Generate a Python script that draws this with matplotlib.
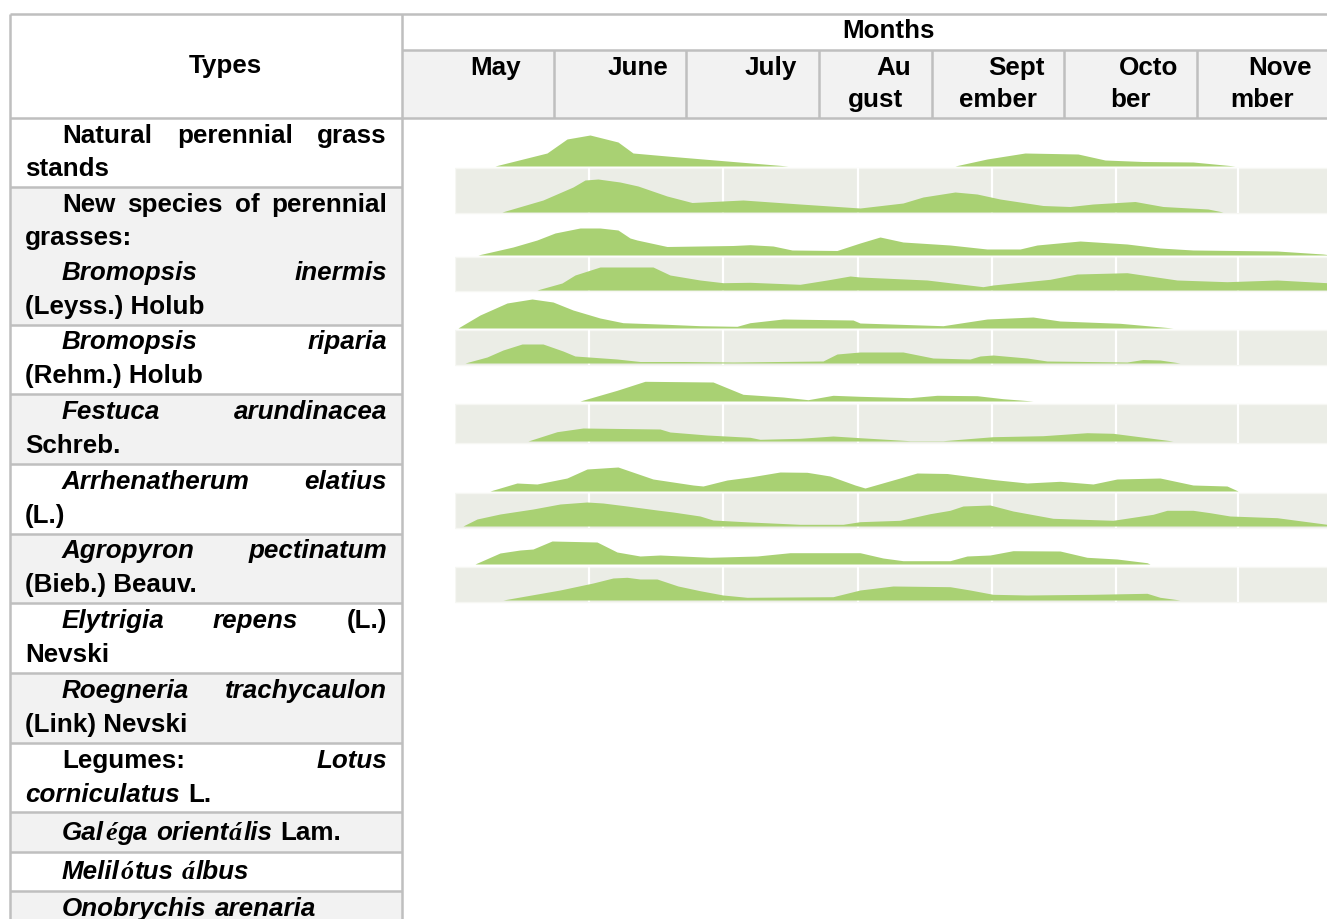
import matplotlib
matplotlib.use("Agg")
import numpy as np
import matplotlib.pyplot as plt
from matplotlib.patches import Rectangle

# ---------------- data ----------------
months_line1 = ["May", "June", "July", "Au", "Sept", "Octo", "Nove"]
months_line2 = ["", "", "", "gust", "ember", "ber", "mber"]

# ridge profiles: position along the season scale / relative intensity
r01_x = [0, 40, 92, 112, 135, 163, 178, 212, 278, 333, 500, 532, 570, 623, 650, 688, 738, 780, 872]
r01_h = [0, 0, 13, 27, 31, 24, 13, 10, 4.5, 0, 0, 7, 13, 12, 6, 4.5, 4, 0, 0]
r02_x = [0, 47, 88, 118, 130, 143, 165, 183, 212, 237, 288, 345, 405, 448, 468, 500, 522, 545,
         588, 615, 638, 680, 708, 753, 768, 872]
r02_h = [0, 0, 12, 25, 32, 33, 30, 26, 16, 9.5, 12, 8, 4, 9, 15, 20, 18, 13,
         6.5, 5.5, 8, 10.5, 5.5, 3, 0, 0]
r03_x = [0, 23, 58, 82, 100, 125, 145, 163, 175, 182, 212, 278, 295, 318, 337, 382, 405, 425,
         448, 495, 532, 565, 582, 625, 672, 705, 738, 822, 868, 872]
r03_h = [0, 0, 8, 15, 22, 27, 27, 25, 17, 15, 8.5, 9.5, 10.3, 9, 5, 4.5, 12, 18,
         13, 10, 6, 6, 10, 14, 11, 7, 5, 4, 1, 0.5]
r04_x = [0, 82, 107, 120, 145, 198, 215, 245, 268, 295, 345, 372, 395, 405, 472, 528, 538,
         595, 622, 672, 722, 772, 822, 872]
r04_h = [0, 0, 7, 15, 23, 23, 15, 10, 7.3, 7.7, 5.7, 10, 14, 13, 10, 3.3, 5,
         10.7, 16, 17.3, 10, 8.3, 10, 7.3]
r05_x = [0, 3, 25, 52, 77, 98, 118, 145, 168, 212, 245, 282, 295, 328, 398, 405, 488, 532,
         578, 605, 665, 718, 872]
r05_h = [0, 0, 13, 25, 29, 26, 18, 10, 5.3, 3.7, 2.3, 1.7, 5.3, 9, 8, 5, 2.3, 9,
         11, 7, 4.7, 0, 0]
r06_x = [0, 10, 32, 48, 67, 88, 108, 120, 162, 185, 228, 278, 368, 382, 405, 448, 478, 515,
         525, 538, 572, 592, 672, 688, 705, 725, 872]
r06_h = [0, 0, 6, 13, 19, 19, 12, 7, 4, 1.5, 1.5, 1, 2, 9, 11, 11, 5, 4,
         7, 8, 5, 2, 1, 3.5, 3, 0, 0]
r07_x = [0, 125, 162, 190, 258, 288, 328, 353, 378, 405, 455, 482, 522, 548, 578, 872]
r07_h = [0, 0, 10.7, 19.7, 19, 6.7, 4, 1.3, 5.7, 4.7, 3.3, 5.7, 5.3, 2.3, 0, 0]
r08_x = [0, 73, 102, 128, 205, 215, 252, 295, 305, 345, 378, 405, 455, 488, 538, 588, 632,
         658, 718, 872]
r08_h = [0, 0, 9.3, 13, 12, 9, 6, 3.7, 1.7, 2.7, 5, 3.3, 0.3, 0.3, 4.3, 5.3, 8.3,
         7.7, 0, 0]
r09_x = [0, 35, 62, 82, 112, 132, 163, 198, 238, 248, 272, 295, 325, 352, 375, 400, 410, 445,
         462, 492, 538, 572, 605, 638, 662, 705, 738, 772, 783, 872]
r09_h = [0, 0, 8, 7, 13, 22, 24, 12, 6, 5, 11, 14, 19, 18.7, 15, 6, 3, 13,
         18, 17.5, 11.5, 8, 9.7, 7, 12, 13, 6, 5, 0, 0]
r10_x = [0, 8, 22, 45, 78, 105, 132, 148, 172, 202, 218, 245, 258, 295, 345, 388, 405, 445,
         475, 495, 508, 535, 558, 598, 658, 698, 712, 738, 755, 775, 822, 872]
r10_h = [0, 0, 7, 12, 17, 22, 24, 23, 20, 16, 14, 10, 6, 4, 1.7, 1.7, 4.3, 5.7,
         12.3, 15.7, 20, 21, 15, 7.7, 5.7, 11.7, 15.7, 15.7, 13.3, 10, 8.3, 1.7]
r11_x = [0, 20, 45, 65, 78, 97, 142, 162, 185, 205, 255, 302, 335, 405, 428, 448, 495, 512,
         535, 558, 605, 632, 662, 692, 695, 872]
r11_h = [0, 0, 11, 14, 15, 23, 22, 12, 8, 9, 6.7, 8, 11.3, 11.3, 6, 3.3, 3.3, 8,
         9, 13.3, 13, 6.7, 5, 1.3, 0, 0]
r12_x = [0, 48, 105, 138, 158, 172, 185, 202, 223, 245, 268, 292, 378, 405, 438, 495, 515,
         538, 572, 638, 692, 705, 725, 872]
r12_h = [0, 0, 10, 17, 22, 22.7, 21, 21, 14, 9.3, 5, 2.7, 3.3, 10, 14, 13.3, 10,
         5.7, 5, 5.7, 6.7, 2.7, 0, 0]
season_grid = [134, 268, 403, 537, 661, 783]

# text of the "Types" column: (mode, words); word = list of (text, style) runs
B, BI, SI = "b", "bi", "si"
type_rows = [
    [("J", [[("Natural", B)], [("perennial", B)], [("grass", B)]]),
     ("L", [[("stands", B)]])],
    [("J", [[("New", B)], [("species", B)], [("of", B)], [("perennial", B)]]),
     ("L", [[("grasses:", B)]]),
     ("J", [[("Bromopsis", BI)], [("inermis", BI)]]),
     ("L", [[("(Leyss.) Holub", B)]])],
    [("J", [[("Bromopsis", BI)], [("riparia", BI)]]),
     ("L", [[("(Rehm.) Holub", B)]])],
    [("J", [[("Festuca", BI)], [("arundinacea", BI)]]),
     ("L", [[("Schreb.", B)]])],
    [("J", [[("Arrhenatherum", BI)], [("elatius", BI)]]),
     ("L", [[("(L.)", B)]])],
    [("J", [[("Agropyron", BI)], [("pectinatum", BI)]]),
     ("L", [[("(Bieb.) Beauv.", B)]])],
    [("J", [[("Elytrigia", BI)], [("repens", BI)], [("(L.)", B)]]),
     ("L", [[("Nevski", B)]])],
    [("J", [[("Roegneria", BI)], [("trachycaulon", BI)]]),
     ("L", [[("(Link) Nevski", B)]])],
    [("J", [[("Legumes:", B)], [("Lotus", BI)]]),
     ("L", [[("corniculatus", BI)], [("L.", B)]])],
    [("I", [[("Gal", BI), ("é", SI), ("ga", BI)], [("orient", BI), ("á", SI), ("lis", BI)],
            [("Lam.", B)]])],
    [("I", [[("Melil", BI), ("ó", SI), ("tus", BI)], [("á", SI), ("lbus", BI)]])],
    [("I", [[("Onobrychis", BI)], [("arenaria", BI)]])],
]

# ---------------- layout ----------------
W, H = 1327, 919
LINE = "#bfbfbf"
SHADE = "#f2f2f2"
GREEN = "#a9d173"
BAND = "#ebede6"
FS = 18.7
STYLE = {
    B: dict(family="Liberation Sans", weight="bold", style="normal"),
    BI: dict(family="Liberation Sans", weight="bold", style="italic"),
    SI: dict(family="Liberation Serif", weight="bold", style="italic"),
}

fig = plt.figure(figsize=(W / 100, H / 100), dpi=100)
ax = fig.add_axes([0, 0, 1, 1])
ax.set_xlim(0, W)
ax.set_ylim(H, 0)
ax.axis("off")
renderer = fig.canvas.get_renderer()

left, col, right = 10, 402, W + 5
top, mid, head_bot = 14, 50, 118
month_edges = [402, 554, 686, 819, 932, 1064, 1197, 1327]
row_edges = [118, 187, 325, 394, 464, 534, 603, 673, 743, 812, 852, 891, 930]
row_shaded = [False, True, False, True, False, True, False, True, False, True, False, True]
baselines = [[143, 176], [212, 245, 280, 314], [349, 383], [419, 453], [489, 523],
             [558, 592], [628, 662], [698, 732], [768, 802], [840], [879], [916]]

# backgrounds
ax.add_patch(Rectangle((col, mid), right - col, head_bot - mid, fc=SHADE, ec="none"))
for i, shaded in enumerate(row_shaded):
    if shaded:
        ax.add_patch(Rectangle((left, row_edges[i]), col - left,
                               row_edges[i + 1] - row_edges[i], fc=SHADE, ec="none"))

# grid lines of the table
lw = 1.8
ax.hlines([top, head_bot], left, right, color=LINE, lw=lw)
ax.hlines(mid, col, right, color=LINE, lw=lw)
ax.vlines([left, col], top, H + 5, color=LINE, lw=lw)
ax.vlines(month_edges[1:-1], mid, head_bot, color=LINE, lw=lw)
ax.hlines(row_edges[1:-1], left, col, color=LINE, lw=lw)

# header text
hdr = dict(fontsize=FS, va="baseline", ha="center", **STYLE[B])
ax.text(225, 73, "Types", **hdr)
ax.text(889, 38, "Months", **hdr)
for i in range(len(months_line1)):
    c = (month_edges[i] + month_edges[i + 1]) / 2
    ax.text(c + 18, 75, months_line1[i], **hdr)
    if months_line2[i]:
        ax.text(c, 107, months_line2[i], **hdr)

# types column, justified like the source table
INDENT_X, LEFT_X, RIGHT_X = 62, 25, 387
SPACE, RUN_GAP = 8, 1


def make_word(runs, y):
    arts = []
    for txt, st in runs:
        t = ax.text(0, y, txt, fontsize=FS, va="baseline", ha="left", **STYLE[st])
        arts.append((t, t.get_window_extent(renderer).width))
    total = sum(w for _, w in arts) + RUN_GAP * (len(arts) - 1)
    return arts, total


def draw_line(mode, words, y):
    made = [make_word(w, y) for w in words]
    x = INDENT_X if mode in ("J", "I") else LEFT_X
    gap = SPACE
    if mode == "J" and len(made) > 1:
        gap = (RIGHT_X - x - sum(w for _, w in made)) / (len(made) - 1)
    for arts, width in made:
        xx = x
        for t, w in arts:
            t.set_x(xx)
            xx += w + RUN_GAP
        x += width + gap


for lines, ys in zip(type_rows, baselines):
    for (mode, words), y in zip(lines, ys):
        draw_line(mode, words, y)

# ---------------- ridgeline chart ----------------
ch_x0, ch_x1, ch_y0, ch_y1 = 455, W, 120, 606
axr = fig.add_axes([ch_x0 / W, 1 - ch_y1 / H, (ch_x1 - ch_x0) / W, (ch_y1 - ch_y0) / H])
axr.set_xlim(0, ch_x1 - ch_x0)
axr.set_ylim(ch_y1, ch_y0)
axr.axis("off")

ridges = [(r01_x, r01_h), (r02_x, r02_h), (r03_x, r03_h), (r04_x, r04_h),
          (r05_x, r05_h), (r06_x, r06_h), (r07_x, r07_h), (r08_x, r08_h),
          (r09_x, r09_h), (r10_x, r10_h), (r11_x, r11_h), (r12_x, r12_h)]
ridge_base = [166, 212, 255, 290, 328, 363, 401, 441, 491, 526, 564, 600]
bands = [(168, 213), (257, 291), (330, 365), (404, 443), (493, 528), (567, 602)]

for b0, b1 in bands:
    axr.add_patch(Rectangle((0, b0), 900, b1 - b0, fc=BAND, ec="#f6f7f3", lw=1, zorder=1))
    axr.vlines(season_grid, b0, b1, color="white", lw=1.6, zorder=2)

for (xs, hs), base in zip(ridges, ridge_base):
    xs = np.array(xs, dtype=float)
    hs = np.array(hs, dtype=float)
    axr.fill_between(xs, base, base - hs, color=GREEN, lw=0, zorder=3)

fig.savefig("out.png", dpi=100)
